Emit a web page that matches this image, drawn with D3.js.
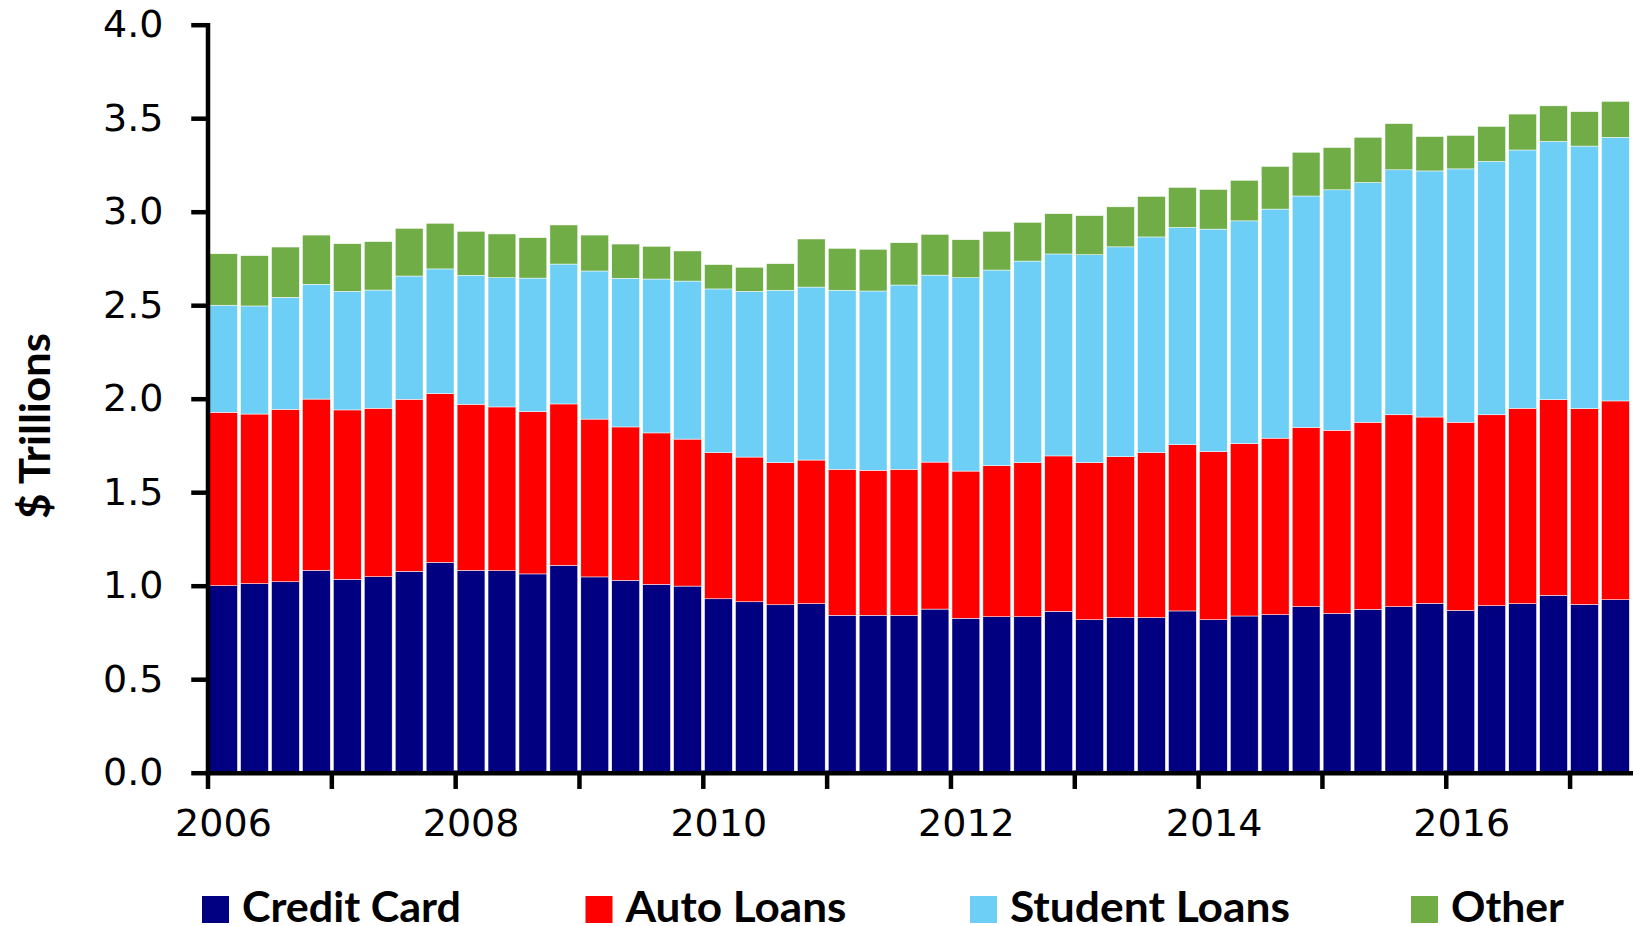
<!DOCTYPE html>
<head>
    <meta charset="utf-8">
    <script src="https://d3js.org/d3.v7.min.js"></script>
    <style>
    body {
        margin: 0;
        background: #fff;
    }

    .axis path,
    .axis line {
        stroke: #000;
        stroke-width: 4.5;
        stroke-linecap: square;
    }

    .axis text {
        font-family: "DejaVu Sans", Verdana, sans-serif;
        font-size: 38px;
        fill: #000;
    }

    .label,
    .legend text {
        font-family: Lato, "Open Sans", sans-serif;
        font-weight: bold;
        font-size: 42px;
        fill: #000;
    }
    </style>
</head>

<body>
    <script>
    // quarterly values, $ trillions
    var quarters = ["2006Q1", "2006Q2", "2006Q3", "2006Q4", "2007Q1", "2007Q2", "2007Q3", "2007Q4",
        "2008Q1", "2008Q2", "2008Q3", "2008Q4", "2009Q1", "2009Q2", "2009Q3", "2009Q4",
        "2010Q1", "2010Q2", "2010Q3", "2010Q4", "2011Q1", "2011Q2", "2011Q3", "2011Q4",
        "2012Q1", "2012Q2", "2012Q3", "2012Q4", "2013Q1", "2013Q2", "2013Q3", "2013Q4",
        "2014Q1", "2014Q2", "2014Q3", "2014Q4", "2015Q1", "2015Q2", "2015Q3", "2015Q4",
        "2016Q1", "2016Q2", "2016Q3", "2016Q4", "2017Q1", "2017Q2"];

    var creditCard = [1.000, 1.011, 1.021, 1.082, 1.034, 1.048, 1.077, 1.125, 1.082, 1.080, 1.063, 1.109,
        1.047, 1.029, 1.007, 0.998, 0.930, 0.914, 0.898, 0.904, 0.842, 0.842, 0.842, 0.875,
        0.826, 0.834, 0.834, 0.863, 0.818, 0.829, 0.829, 0.865, 0.818, 0.838, 0.845, 0.888,
        0.852, 0.874, 0.888, 0.906, 0.868, 0.893, 0.904, 0.949, 0.900, 0.925];

    var autoLoans = [0.927, 0.907, 0.922, 0.916, 0.906, 0.901, 0.920, 0.902, 0.888, 0.876, 0.868, 0.863,
        0.844, 0.820, 0.810, 0.786, 0.781, 0.774, 0.760, 0.768, 0.780, 0.775, 0.780, 0.786,
        0.787, 0.808, 0.824, 0.831, 0.840, 0.861, 0.883, 0.889, 0.899, 0.922, 0.944, 0.958,
        0.979, 1.000, 1.026, 0.996, 1.006, 1.021, 1.045, 1.046, 1.047, 1.063];

    var studentLoans = [0.573, 0.578, 0.599, 0.614, 0.634, 0.632, 0.659, 0.667, 0.690, 0.691, 0.714, 0.748,
        0.792, 0.795, 0.823, 0.845, 0.876, 0.886, 0.922, 0.925, 0.958, 0.959, 0.986, 1.000,
        1.034, 1.046, 1.078, 1.080, 1.112, 1.122, 1.153, 1.162, 1.190, 1.191, 1.225, 1.238,
        1.286, 1.282, 1.310, 1.316, 1.355, 1.355, 1.381, 1.381, 1.404, 1.410];

    var other = [0.275, 0.269, 0.269, 0.263, 0.255, 0.259, 0.255, 0.244, 0.235, 0.234, 0.216, 0.209,
        0.192, 0.183, 0.175, 0.161, 0.130, 0.129, 0.142, 0.257, 0.224, 0.223, 0.226, 0.218,
        0.203, 0.207, 0.207, 0.215, 0.209, 0.214, 0.217, 0.214, 0.212, 0.217, 0.228, 0.234,
        0.226, 0.242, 0.247, 0.184, 0.179, 0.187, 0.192, 0.190, 0.184, 0.192];

    var seriesNames = ["Credit Card", "Auto Loans", "Student Loans", "Other"];
    var colors = ["#000080", "#FF0000", "#6DCFF6", "#70AD47"];
    var yTicks = [0, 0.5, 1, 1.5, 2, 2.5, 3, 3.5, 4];
    var yearLabels = ["2006", "2007", "2008", "2009", "2010", "2011", "2012", "2013", "2014", "2015", "2016", "2017"];

    // plot box in px (window.top is taken, hence the prefix)
    var W = 1633, H = 926;
    var plotL = 207.5, plotR = 1631.5, plotT = 24.7, plotB = 772.7;

    var svg = d3.select("body").append("svg")
        .attr("width", W)
        .attr("height", H);

    var rows = quarters.map(function(q, i) {
        return {
            q: q,
            "Credit Card": creditCard[i],
            "Auto Loans": autoLoans[i],
            "Student Loans": studentLoans[i],
            "Other": other[i]
        };
    });

    var stack = d3.stack().keys(seriesNames)(rows);

    var x = d3.scaleBand()
        .domain(quarters)
        .range([plotL, plotR])
        .paddingInner(0.1)
        .paddingOuter(0.07);

    // quarter index -> px, used for year ticks
    var xq = d3.scaleLinear()
        .domain([0, quarters.length])
        .range([plotL, plotR]);

    var y = d3.scaleLinear()
        .domain([0, 4])
        .range([plotB, plotT]);

    var color = d3.scaleOrdinal().domain(seriesNames).range(colors);

    svg.selectAll(".layer")
        .data(stack)
        .enter().append("g")
        .attr("class", "layer")
        .attr("fill", function(d) { return color(d.key); })
        .selectAll("rect")
        .data(function(d) { return d; })
        .enter().append("rect")
        .attr("x", function(d) { return x(d.data.q); })
        .attr("width", x.bandwidth())
        .attr("y", function(d) { return y(d[1]); })
        .attr("height", function(d) { return y(d[0]) - y(d[1]); })
        .attr("stroke", "#fff")
        .attr("stroke-width", 0.5);

    var yAxis = d3.axisLeft(y)
        .tickValues(yTicks)
        .tickFormat(d3.format(".1f"))
        .tickSize(14)
        .tickSizeOuter(0)
        .tickPadding(30);

    svg.append("g")
        .attr("class", "axis axis--y")
        .attr("transform", "translate(" + plotL + ",0)")
        .call(yAxis);

    var xAxis = d3.axisBottom(xq)
        .tickValues(yearLabels.map(function(d, i) { return i * 4; }))
        .tickFormat(function(d, i) { return i % 2 === 0 ? yearLabels[i] : ""; })
        .tickSize(14)
        .tickSizeOuter(0)
        .tickPadding(17);

    svg.append("g")
        .attr("class", "axis axis--x")
        .attr("transform", "translate(0," + plotB + ")")
        .call(xAxis);

    // year labels sit over the first quarter's bar, not on the tick
    svg.selectAll(".axis--x .tick text")
        .attr("x", x.step() / 2)
        .attr("dy", "0.85em");

    // y axis title
    svg.append("text")
        .attr("class", "label")
        .attr("transform", "translate(50,426) rotate(-90)")
        .attr("text-anchor", "middle")
        .attr("textLength", 186)
        .attr("lengthAdjust", "spacingAndGlyphs")
        .text("$ Trillions");

    // legend
    var legendX = [202, 585.5, 970, 1411];
    var legendW = [219, 221, 280, 113];

    var legend = svg.append("g")
        .attr("class", "legend")
        .selectAll("g")
        .data(seriesNames)
        .enter().append("g")
        .attr("transform", function(d, i) { return "translate(" + legendX[i] + ",0)"; });

    legend.append("rect")
        .attr("x", 0)
        .attr("y", 896)
        .attr("width", 27)
        .attr("height", 27)
        .attr("fill", function(d) { return color(d); });

    legend.append("text")
        .attr("x", 40)
        .attr("y", 922)
        .attr("textLength", function(d, i) { return legendW[i]; })
        .attr("lengthAdjust", "spacingAndGlyphs")
        .text(function(d) { return d; });
    </script>
</body>
